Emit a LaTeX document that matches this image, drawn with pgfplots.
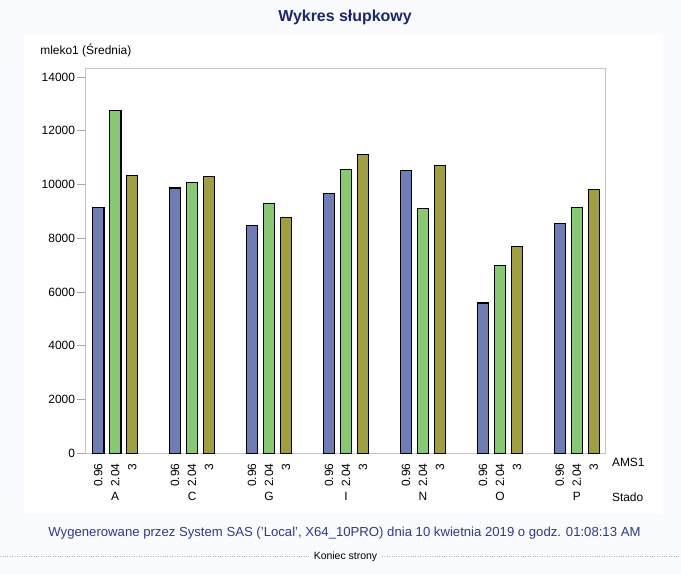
\documentclass[border=0pt]{standalone}
\usepackage{pgfplots}
\pgfplotsset{compat=1.18}
\usepackage{fontspec}
\setmainfont{Liberation Sans}

\definecolor{pagebg}{HTML}{FAFBFE}
\definecolor{titleblue}{HTML}{1B2770}
\definecolor{footblue}{HTML}{2E3A8E}
\definecolor{ams1}{HTML}{6F7DB6}
\definecolor{ams2}{HTML}{87C873}
\definecolor{ams3}{HTML}{A09F40}
\definecolor{framegray}{HTML}{C4C4C4}

\begin{document}
\begin{tikzpicture}
% page and panel
\path[fill=pagebg] (0,0) rectangle (681bp,574bp);
\path[fill=white] (24bp,61bp) rectangle (663bp,539bp);

\node[font=\bfseries\fontsize{16}{18}\selectfont, text=titleblue] at (345bp,557bp) {Wykres słupkowy};
\node[font=\fontsize{12}{14}\selectfont, anchor=west, inner sep=0pt] at (40bp,524bp) {mleko1 (Średnia)};

\begin{axis}[
    at={(85bp,120.4bp)}, anchor=south west,
    scale only axis,
    width=520.5bp, height=385.6bp,
    xmin=-0.39, xmax=6.37,
    ymin=0, ymax=14334,
    ytick={0,2000,...,14000},
    scaled y ticks=false,
    /pgf/number format/1000 sep={},
    /pgf/number format/assume math mode=true,
    axis line style={draw=framegray},
    tick align=outside,
    tick pos=left,
    major tick length=8bp,
    ytick style={draw=gray!70, line width=0.8bp},
    xtick style={draw=none},
    yticklabel style={font=\fontsize{12}{14}\selectfont, inner sep=2bp},
    xtick={-0.2208,0,0.2208, 0.7792,1,1.2208, 1.7792,2,2.2208, 2.7792,3,3.2208,
           3.7792,4,4.2208, 4.7792,5,5.2208, 5.7792,6,6.2208},
    xticklabels={0.96,2.04,3, 0.96,2.04,3, 0.96,2.04,3, 0.96,2.04,3,
                 0.96,2.04,3, 0.96,2.04,3, 0.96,2.04,3},
    xticklabel style={font=\fontsize{12}{14}\selectfont, rotate=90, anchor=east, inner sep=2bp},
    ybar,
    bar width=0.148,
    clip=false,
]
\addplot[fill=ams1, draw=black, line width=1.3bp, bar shift=-0.2208] coordinates {
    (0,9142) (1,9873) (2,8472) (3,9676) (4,10522) (5,5587) (6,8546)
};
\addplot[fill=ams2, draw=black, line width=1.3bp, bar shift=0] coordinates {
    (0,12743) (1,10074) (2,9292) (3,10559) (4,9105) (5,6981) (6,9143)
};
\addplot[fill=ams3, draw=black, line width=1.3bp, bar shift=0.2208] coordinates {
    (0,10335) (1,10298) (2,8770) (3,11118) (4,10708) (5,7689) (6,9814)
};
\begin{scope}[every node/.style={font=\fontsize{12}{14}\selectfont, yshift=-43.5bp}]
\node at (axis cs:0,0) {A};
\node at (axis cs:1,0) {C};
\node at (axis cs:2,0) {G};
\node at (axis cs:3,0) {I};
\node at (axis cs:4,0) {N};
\node at (axis cs:5,0) {O};
\node at (axis cs:6,0) {P};
\end{scope}
\end{axis}

\node[font=\fontsize{12}{14}\selectfont, anchor=west, inner sep=0pt] at (612bp,111bp) {AMS1};
\node[font=\fontsize{12}{14}\selectfont, anchor=west, inner sep=0pt] at (612bp,76bp) {Stado};

% footer
\node[font=\fontsize{13.2}{15}\selectfont, text=footblue] at (344.5bp,41bp)
  {Wygenerowane przez System SAS ('Local', X64\_10PRO) dnia 10 kwietnia 2019 o godz. 01:08:13 AM};
\draw[gray!60, dotted] (0,17bp) -- (309bp,17bp);
\draw[gray!60, dotted] (382bp,17bp) -- (681bp,17bp);
\node[font=\fontsize{10.5}{12}\selectfont] at (345.5bp,17bp) {Koniec strony};
\end{tikzpicture}
\end{document}
